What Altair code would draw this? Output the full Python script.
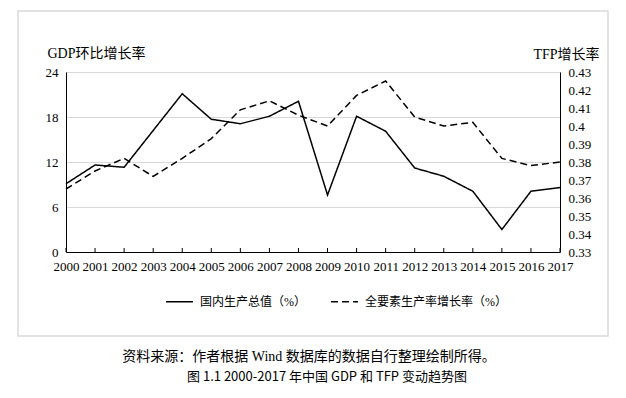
import altair as alt
import pandas as pd

years = [str(y) for y in range(2000, 2018)]
gdp = [9.1, 11.6, 11.3, 16.2, 21.1, 17.7, 17.1, 18.1, 20.1, 7.6,
       18.1, 16.1, 11.2, 10.1, 8.1, 3.0, 8.1, 8.6]
tfp = [0.365, 0.375, 0.382, 0.372, 0.382, 0.393, 0.409, 0.414, 0.406, 0.400,
       0.417, 0.425, 0.405, 0.400, 0.402, 0.382, 0.378, 0.380]
series = ["国内生产总值（%）", "全要素生产率增长率（%）"]
left_title = "GDP环比增长率"
right_title = "TFP增长率"
source_text = "资料来源：作者根据 Wind 数据库的数据自行整理绘制所得。"
caption_text = "图 1.1 2000-2017 年中国 GDP 和 TFP 变动趋势图"

SERIF = "Liberation Serif, Noto Sans CJK SC"
SANS = "Noto Sans CJK SC"

df_gdp = pd.DataFrame({"year": years, "value": gdp, "series": series[0]})
df_tfp = pd.DataFrame({"year": years, "value": tfp, "series": series[1]})
df_years = pd.DataFrame({"year": years})
one = pd.DataFrame({"a": [0]})

xenc = alt.X("year:O", scale=alt.Scale(type="point", padding=0),
             axis=alt.Axis(title=None, labelAngle=0, ticks=False, tickSize=0,
                           labelPadding=8, domain=True, domainColor="black",
                           labelFont=SERIF, labelFontSize=13, labelColor="black",
                           grid=False))

dash = alt.StrokeDash("series:N",
                      scale=alt.Scale(domain=series, range=[[1, 0], [7, 4]]),
                      legend=alt.Legend(title=None, orient="none", direction="horizontal",
                                        legendX=99, legendY=215,
                                        symbolType="stroke", symbolSize=729,
                                        symbolStrokeWidth=1.5, symbolStrokeColor="black",
                                        labelFont=SERIF, labelFontSize=12, labelColor="black",
                                        labelOffset=6, columnPadding=22))

gdp_line = alt.Chart(df_gdp).mark_line(color="black", strokeWidth=1.5).encode(
    x=xenc,
    y=alt.Y("value:Q", scale=alt.Scale(domain=[0, 24], nice=False),
            axis=alt.Axis(orient="left", values=[0, 6, 12, 18, 24], title=left_title,
                          titleAngle=0, titleAlign="left", titleBaseline="alphabetic",
                          titleX=-19, titleY=-15, titleFont=SERIF, titleFontSize=14,
                          titleFontWeight="normal", titleColor="black",
                          ticks=False, tickSize=0, labelPadding=8,
                          labelFont=SERIF, labelFontSize=13, labelColor="black",
                          domain=True, domainColor="black",
                          grid=True, gridColor="#d9d9d9", gridWidth=1)),
    strokeDash=dash,
)

tfp_line = alt.Chart(df_tfp).mark_line(color="black", strokeWidth=1.5).encode(
    x=xenc,
    y=alt.Y("value:Q", scale=alt.Scale(domain=[0.33, 0.43], nice=False, zero=False),
            axis=alt.Axis(orient="right", values=[round(0.33 + i * 0.01, 2) for i in range(11)],
                          format=".2~f", title=right_title,
                          titleAngle=0, titleAlign="left", titleBaseline="alphabetic",
                          titleX=-27, titleY=-14, titleFont=SERIF, titleFontSize=14,
                          titleFontWeight="normal", titleColor="black",
                          ticks=False, tickSize=0, labelPadding=8,
                          labelFont=SERIF, labelFontSize=13, labelColor="black",
                          domain=True, domainColor="black", grid=False)),
    strokeDash=dash,
)

ticks = alt.Chart(df_years).mark_rule(color="black", strokeWidth=1).encode(
    x=alt.X("year:O"),
    y=alt.value(176), y2=alt.value(180),
)

frame = alt.Chart(one).mark_rect(fill="transparent", stroke="#d9d9d9", strokeWidth=1.5).encode(
    x=alt.value(-48), x2=alt.value(542), y=alt.value(-61), y2=alt.value(264)
)

source = alt.Chart(one).mark_text(font=SERIF, fontSize=14, color="black",
                                  align="center", baseline="middle").encode(
    x=alt.value(243), y=alt.value(285), text=alt.value(source_text)
)
caption = alt.Chart(one).mark_text(font=SANS, fontSize=13, color="black",
                                   align="center", baseline="middle").encode(
    x=alt.value(261), y=alt.value(305), text=alt.value(caption_text)
)

chart = alt.layer(frame, gdp_line, tfp_line, ticks, source, caption).resolve_scale(
    y="independent"
).properties(
    width=494, height=180,
    autosize=alt.AutoSizeParams(type="none"),
    padding={"left": 58, "top": 64, "right": 58, "bottom": 138},
).configure_view(strokeWidth=0).configure(background="white")

chart.save("out.html", embed_options={"renderer": "svg", "actions": False})
